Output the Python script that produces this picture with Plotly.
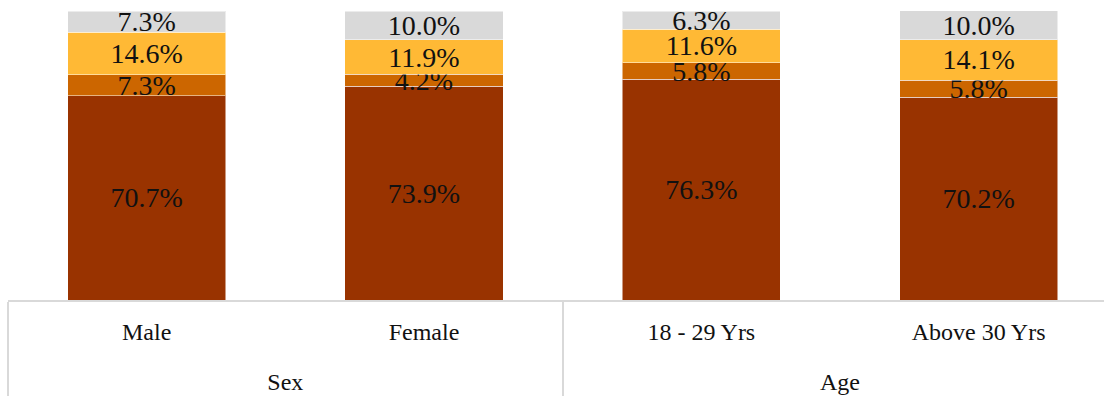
import plotly.graph_objects as go

groups = ["<br>Sex", "<br>Sex", "<br>Age", "<br>Age"]
categories = ["Male", "Female", "18 - 29 Yrs", "Above 30 Yrs"]

series_names = ["S1", "S2", "S3", "S4"]
s1 = [70.7, 73.9, 76.3, 70.2]
s2 = [7.3, 4.2, 5.8, 5.8]
s3 = [14.6, 11.9, 11.6, 14.1]
s4 = [7.3, 10.0, 6.3, 10.0]
colors = ["#993300", "#CC6600", "#FFB935", "#D9D9D9"]

FONT = "Liberation Serif"

fig = go.Figure()
for name, vals, col in zip(series_names, [s1, s2, s3, s4], colors):
    fig.add_trace(go.Bar(
        x=[groups, categories], y=vals, name=name,
        marker=dict(color=col, line=dict(color="rgba(255,255,255,0.5)", width=1)),
        texttemplate="%{y:.1f}%", textposition="inside",
        insidetextanchor="middle",
        textfont=dict(family=FONT, size=28, color="#111111"),
        width=0.57,
    ))

fig.update_layout(
    barmode="stack",
    width=1104, height=402,
    margin=dict(l=8, r=0, t=11, b=102, autoexpand=False),
    plot_bgcolor="white", paper_bgcolor="white",
    showlegend=False,
    uniformtext=dict(minsize=28, mode="show"),
    font=dict(family=FONT, size=24, color="#111111"),
)
fig.update_xaxes(
    range=[-0.5, 3.452],
    automargin=False,
    showline=True, linecolor="#D9D9D9", linewidth=2,
    showdividers=True, dividercolor="#D9D9D9", dividerwidth=2,
    tickfont=dict(family=FONT, size=24, color="#111111"),
    ticks="", ticklabelstandoff=9,
)
fig.update_yaxes(range=[0, 100], visible=False, showgrid=False, automargin=False)

fig.write_html(
    "out.html",
    config={"displayModeBar": False},
    post_script="document.body.style.margin='0';document.body.style.overflow='hidden';",
)
